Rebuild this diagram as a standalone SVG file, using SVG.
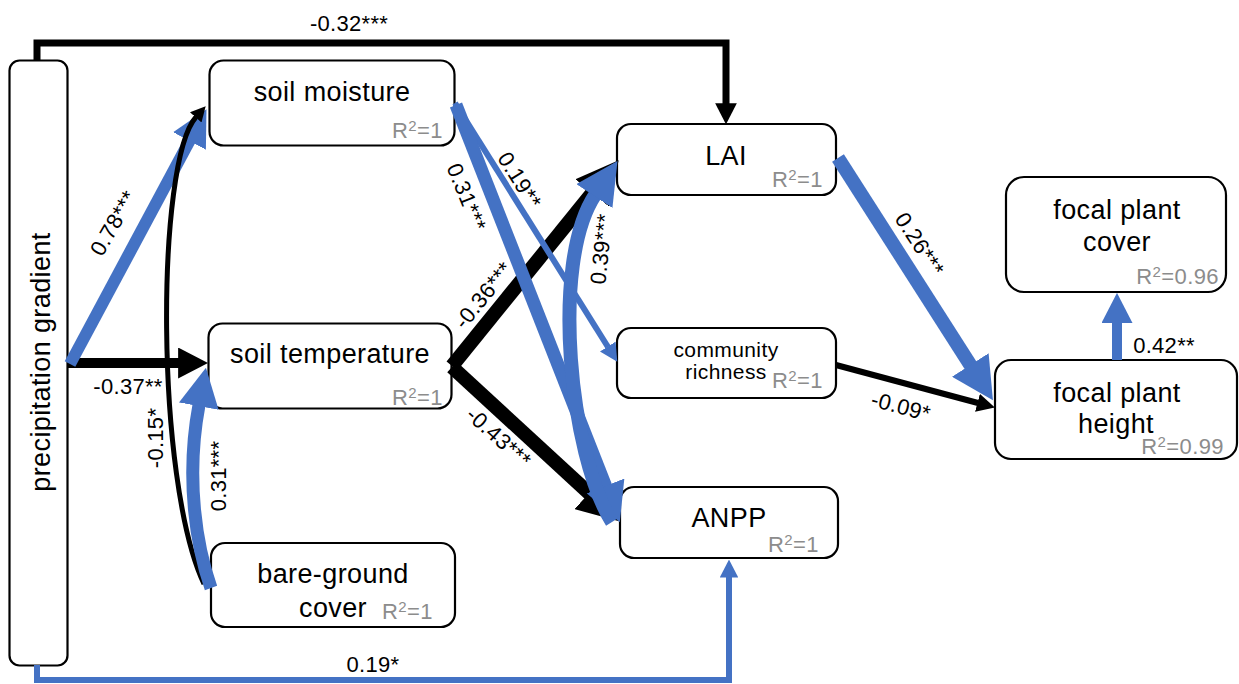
<svg xmlns="http://www.w3.org/2000/svg" width="1239" height="684" viewBox="0 0 1239 684">
<style>
.box{fill:#fff;stroke:#000;stroke-width:2.2}
.lbl{font-family:"Liberation Sans",Arial,sans-serif;font-size:27px;letter-spacing:0.4px;fill:#000;text-anchor:middle}
.sm{font-size:21px}
.r2{font-family:"Liberation Sans",Arial,sans-serif;font-size:22px;letter-spacing:0.4px;fill:#8c8c8c;text-anchor:end}
.el{font-family:"Liberation Sans",Arial,sans-serif;font-size:22px;letter-spacing:0.3px;fill:#000;text-anchor:middle}
.cb{fill:none;stroke:#4472c4;marker-end:url(#hb)}
.ck{fill:none;stroke:#000;marker-end:url(#hk)}
</style>
<defs>
<marker id="hb" viewBox="0 0 10 10" refX="0.3" refY="5" markerWidth="3" markerHeight="3.1" preserveAspectRatio="none" markerUnits="strokeWidth" orient="auto"><path d="M0,0 L10,5 L0,10 z" fill="#4472c4"/></marker>
<marker id="hk" viewBox="0 0 10 10" refX="0.3" refY="5" markerWidth="3" markerHeight="3.1" preserveAspectRatio="none" markerUnits="strokeWidth" orient="auto"><path d="M0,0 L10,5 L0,10 z" fill="#000"/></marker>
</defs>
<rect width="1239" height="684" fill="#fff"/>

<g id="precipitation_gradient">
<rect class="box" x="9.5" y="60.5" width="58" height="605" rx="10"/>
<text class="lbl" transform="translate(50,362) rotate(-90)">precipitation gradient</text>
</g>
<g id="soil_moisture">
<rect class="box" x="209.5" y="60.5" width="245" height="85" rx="14"/>
<text class="lbl" x="332" y="101">soil moisture</text>
<text class="r2" x="443" y="138">R<tspan font-size="15" dy="-7">2</tspan><tspan dy="7">=1</tspan></text>
</g>
<g id="soil_temperature">
<rect class="box" x="208.5" y="323.5" width="243" height="85" rx="14"/>
<text class="lbl" x="330" y="363">soil temperature</text>
<text class="r2" x="443" y="405">R<tspan font-size="15" dy="-7">2</tspan><tspan dy="7">=1</tspan></text>
</g>
<g id="bare_ground_cover">
<rect class="box" x="211" y="543" width="244" height="84" rx="14"/>
<text class="lbl" x="333" y="583">bare-ground</text>
<text class="lbl" x="333" y="617">cover</text>
<text class="r2" x="433" y="619">R<tspan font-size="15" dy="-7">2</tspan><tspan dy="7">=1</tspan></text>
</g>
<g id="LAI">
<rect class="box" x="617" y="124" width="219" height="71" rx="14"/>
<text class="lbl" x="726" y="165">LAI</text>
<text class="r2" x="823" y="187">R<tspan font-size="15" dy="-7">2</tspan><tspan dy="7">=1</tspan></text>
</g>
<g id="community_richness">
<rect class="box" x="617" y="328" width="219" height="70" rx="14"/>
<text class="lbl sm" x="726" y="357">community</text>
<text class="lbl sm" x="726" y="379">richness</text>
<text class="r2" x="823" y="388">R<tspan font-size="15" dy="-7">2</tspan><tspan dy="7">=1</tspan></text>
</g>
<g id="ANPP">
<rect class="box" x="620" y="487" width="218" height="71" rx="14"/>
<text class="lbl" x="729" y="527">ANPP</text>
<text class="r2" x="819" y="552">R<tspan font-size="15" dy="-7">2</tspan><tspan dy="7">=1</tspan></text>
</g>
<g id="focal_plant_cover">
<rect class="box" x="1006" y="177" width="220" height="115" rx="18"/>
<text class="lbl" x="1117" y="219">focal plant</text>
<text class="lbl" x="1117" y="251">cover</text>
<text class="r2" x="1219" y="284">R<tspan font-size="15" dy="-7">2</tspan><tspan dy="7">=0.96</tspan></text>
</g>
<g id="focal_plant_height">
<rect class="box" x="995" y="360" width="242" height="99" rx="16"/>
<text class="lbl" x="1117" y="402">focal plant</text>
<text class="lbl" x="1116" y="433">height</text>
<text class="r2" x="1224" y="454">R<tspan font-size="15" dy="-7">2</tspan><tspan dy="7">=0.99</tspan></text>
</g>

<g id="connectors">
<path class="ck" d="M37 61 V43 H726 V104" stroke-width="7"/>
<path class="cb" d="M37 665 V680 H729 V577" stroke-width="6"/>
<path class="ck" d="M68 363 H179" stroke-width="10"/>
<path class="cb" d="M70 364 L190 140" stroke-width="12"/>
<path class="ck" d="M204 584 C155 480 156 162 196 117" stroke-width="5"/>
<path class="cb" d="M211 588 C197 548 185 480 199 405" stroke-width="13"/>
<path class="ck" d="M452 366 L593 192" stroke-width="14"/>
<path class="ck" d="M452 367 L590 494" stroke-width="14"/>
<path class="cb" d="M455 103 L608 347" stroke-width="6"/>
<path class="cb" d="M456 105 L606 487" stroke-width="13"/>
<path class="cb" d="M612 522 C570 455 550 263 595 195" stroke-width="14"/>
<path class="cb" d="M838 158 L971 366" stroke-width="14"/>
<path class="ck" d="M836 365 L978 403" stroke-width="6"/>
<path class="cb" d="M1117 360 V322" stroke-width="10"/>

<text class="el" x="349" y="31">-0.32***</text>
<text class="el" x="373" y="672">0.19*</text>
<text class="el" x="128" y="394">-0.37**</text>
<text class="el" x="1164" y="353">0.42**</text>
<text class="el" transform="translate(113,223) rotate(-60)" y="8">0.78***</text>
<text class="el" transform="translate(155,438) rotate(-90)" y="8">-0.15*</text>
<text class="el" transform="translate(218,476) rotate(-90)" y="8">0.31***</text>
<text class="el" transform="translate(467,197) rotate(68)" y="8">0.31***</text>
<text class="el" transform="translate(520,180) rotate(58)" y="8">0.19**</text>
<text class="el" transform="translate(483,295) rotate(-51)" y="8">-0.36***</text>
<text class="el" transform="translate(499,437) rotate(42)" y="8">-0.43***</text>
<text class="el" transform="translate(601,249) rotate(-84)" y="8">0.39***</text>
<text class="el" transform="translate(920,244) rotate(57)" y="8">0.26***</text>
<text class="el" transform="translate(901,406) rotate(15)" y="8">-0.09*</text>
</g>
</svg>
